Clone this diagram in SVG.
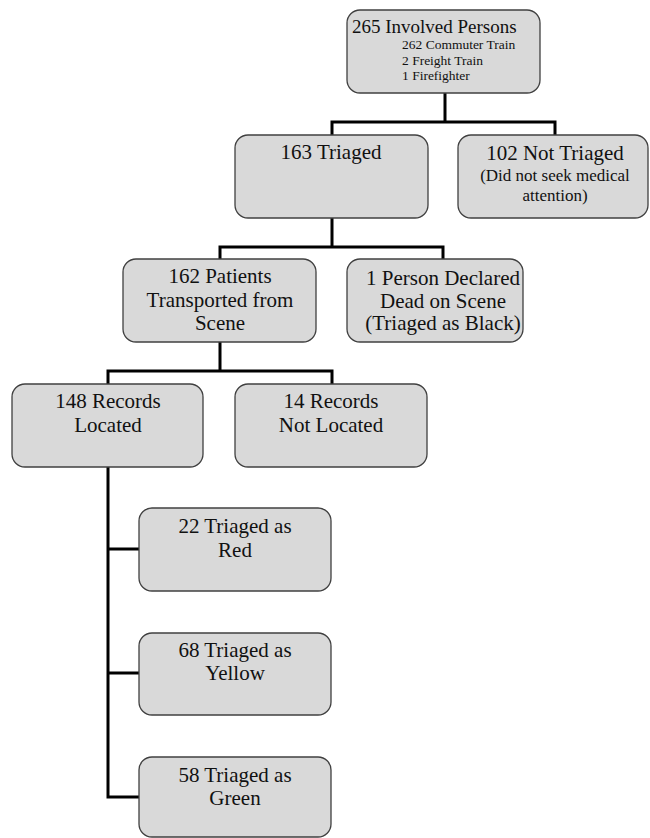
<svg xmlns="http://www.w3.org/2000/svg" width="650" height="838" viewBox="0 0 650 838">
<style>
.box{fill:#d9d9d9;stroke:#404040;stroke-width:1.3}
.t{font-family:"Liberation Serif","Times New Roman",serif;font-size:21px;fill:#111;text-anchor:middle}
.s{font-size:17px}
.sm{font-family:"Liberation Serif","Times New Roman",serif;font-size:13.5px;fill:#111}
.c{fill:none;stroke:#000;stroke-width:3}
</style>
<rect width="650" height="838" fill="#fff"/>
<g id="connectors">
<path class="c" d="M445 93V122M332 122H555M332 120.5V135M555 120.5V135"/>
<path class="c" d="M332 218V247M220 247H443M220 245.5V259M443 245.5V259"/>
<path class="c" d="M220 342V371M108 371H332M108 369.5V384M332 369.5V384"/>
<path class="c" d="M108 467V797M106.5 549H139M106.5 673H139M106.5 797H139"/>
</g>
<g id="n265">
<rect class="box" x="347" y="10" width="193" height="83" rx="13"/>
<text class="t" x="352" y="33" style="text-anchor:start;font-size:19px">265 Involved Persons</text>
<text class="sm" x="402" y="49">262 Commuter Train</text>
<text class="sm" x="402" y="64.5">2 Freight Train</text>
<text class="sm" x="402" y="80">1 Firefighter</text>
</g>
<g id="n163">
<rect class="box" x="235" y="135" width="193" height="83" rx="13"/>
<text class="t" x="331" y="159">163 Triaged</text>
</g>
<g id="n102">
<rect class="box" x="458" y="135" width="190" height="83" rx="13"/>
<text class="t" x="555" y="160">102 Not Triaged</text>
<text class="t s" x="555" y="181">(Did not seek medical</text>
<text class="t s" x="555" y="201">attention)</text>
</g>
<g id="n162">
<rect class="box" x="123" y="259" width="193" height="83" rx="13"/>
<text class="t" x="220" y="283">162 Patients</text>
<text class="t" x="220" y="307">Transported from</text>
<text class="t" x="220" y="330">Scene</text>
</g>
<g id="n1">
<rect class="box" x="347" y="259" width="176" height="83" rx="13"/>
<text class="t" x="443" y="285">1 Person Declared</text>
<text class="t" x="443" y="308">Dead on Scene</text>
<text class="t" x="443" y="330">(Triaged as Black)</text>
</g>
<g id="n148">
<rect class="box" x="12" y="384" width="191" height="83" rx="13"/>
<text class="t" x="108" y="408">148 Records</text>
<text class="t" x="108" y="432">Located</text>
</g>
<g id="n14">
<rect class="box" x="235" y="384" width="192" height="83" rx="13"/>
<text class="t" x="331" y="408">14 Records</text>
<text class="t" x="331" y="432">Not Located</text>
</g>
<g id="n22">
<rect class="box" x="139" y="508" width="192" height="83" rx="13"/>
<text class="t" x="235" y="533">22 Triaged as</text>
<text class="t" x="235" y="557">Red</text>
</g>
<g id="n68">
<rect class="box" x="139" y="633" width="192" height="82" rx="13"/>
<text class="t" x="235" y="657">68 Triaged as</text>
<text class="t" x="235" y="680">Yellow</text>
</g>
<g id="n58">
<rect class="box" x="139" y="757" width="192" height="80" rx="13"/>
<text class="t" x="235" y="782">58 Triaged as</text>
<text class="t" x="235" y="805">Green</text>
</g>
</svg>
